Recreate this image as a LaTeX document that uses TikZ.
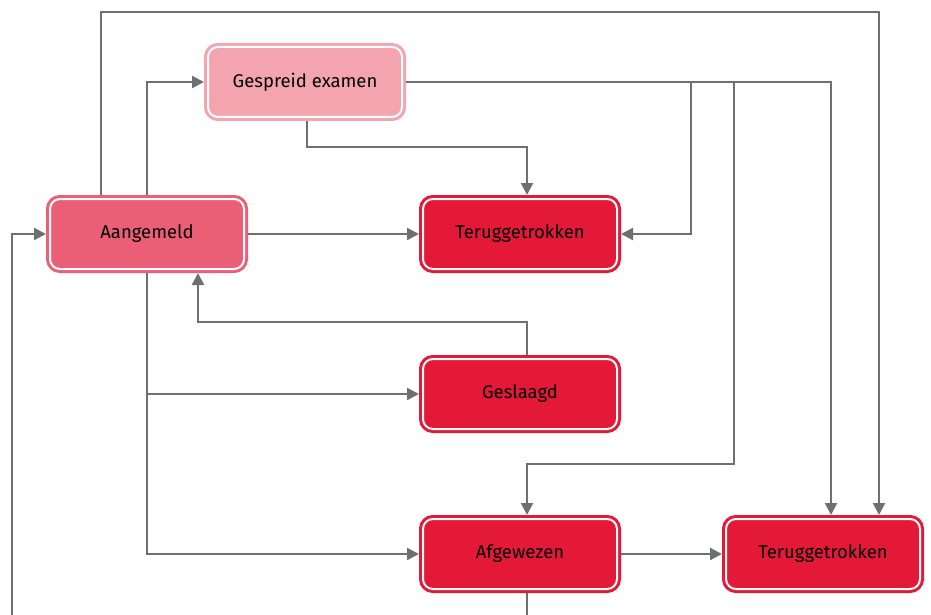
\documentclass[tikz,border=0pt]{standalone}
\usepackage{fontspec}
\setmainfont{Fira Sans}
\usetikzlibrary{arrows.meta}

\definecolor{cAan}{HTML}{EA5F76}
\definecolor{cGesp}{HTML}{F4A4AF}
\definecolor{cRed}{HTML}{E31937}
\definecolor{cLine}{HTML}{6E6F71}

\tikzset{
  statebox/.style={
    draw=#1, fill=#1, line width=3pt, double=white, double distance=2pt,
    rounded corners=10pt, minimum width=194pt, minimum height=70pt,
    outer sep=4pt, inner sep=0pt, font=\fontsize{18.5pt}{22pt}\selectfont, text=black
  },
  arr/.style={draw=cLine, line width=2.2pt, -{Triangle[length=12pt,width=12pt]}},
}

\begin{document}
\begin{tikzpicture}[x=1pt, y=-1pt]
  \clip (0,0) rectangle (931,615);

  % states
  \node[statebox=cAan]  (aan)  at (147,234) {Aangemeld};
  \node[statebox=cGesp] (gesp) at (305,82)  {Gespreid examen};
  \node[statebox=cRed]  (ter1) at (520,234) {Teruggetrokken};
  \node[statebox=cRed]  (gesl) at (520,394) {Geslaagd};
  \node[statebox=cRed]  (afg)  at (520,554) {Afgewezen};
  \node[statebox=cRed]  (ter2) at (823,554) {Teruggetrokken};

  % bend points
  \coordinate (top)  at (879,12);
  \coordinate (gs)   at (307,147);
  \coordinate (br1)  at (691,82);
  \coordinate (br2)  at (734,82);
  \coordinate (mid)  at (734,464);
  \coordinate (back) at (198,322);
  \coordinate (lowR) at (527,640);
  \coordinate (lowL) at (12,640);

  % transitions
  \draw[arr] ([xshift=-46pt]aan.north) |- (top) -- (top |- ter2.north);
  \draw[arr] (aan.north) |- (gesp.west);
  \draw[arr] ([xshift=2pt]gesp.south) -- (gs) -| ([xshift=7pt]ter1.north);
  \draw[arr] (gesp.east) -| ([xshift=8pt]ter2.north);
  \draw[arr] (gesp.east) -- (br1) |- (ter1.east);
  \draw[arr] (gesp.east) -- (br2) -- (mid) -| ([xshift=7pt]afg.north);
  \draw[arr] (aan.east) -- (ter1.west);
  \draw[arr] ([xshift=7pt]gesl.north) |- (back) -- (back |- aan.south);
  \draw[arr] (aan.south) |- (gesl.west);
  \draw[arr] (aan.south) |- (afg.west);
  \draw[arr] (afg.east) -- (ter2.west);
  \draw[arr] ([xshift=7pt]afg.south) -- (lowR) -- (lowL) |- (aan.west);
\end{tikzpicture}
\end{document}
